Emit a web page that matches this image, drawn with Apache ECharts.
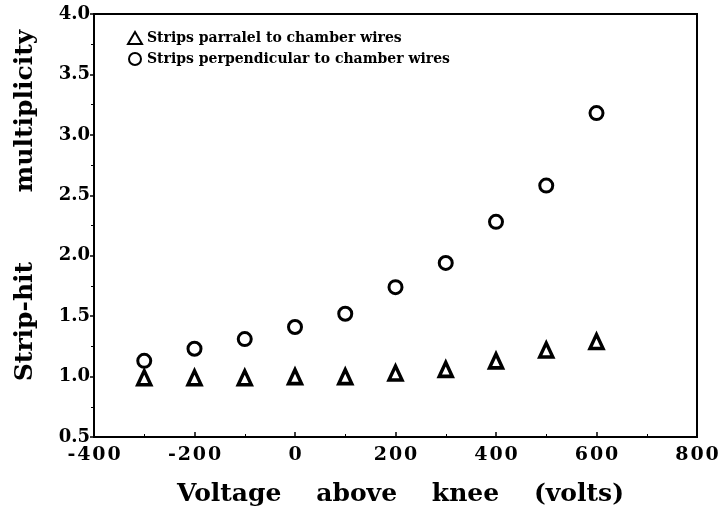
<!DOCTYPE html>
<html><head><meta charset="utf-8">
<script src="https://cdn.jsdelivr.net/npm/echarts@6/dist/echarts.min.js"></script>
<style>html,body{margin:0;padding:0;background:#fff}#c{width:725px;height:512px}</style>
</head><body><div id="c"></div>
<script>
var voltages = [-300, -200, -100, 0, 100, 200, 300, 400, 500, 600];
var parallelVals = [0.99, 0.99, 0.99, 1.0, 1.0, 1.03, 1.06, 1.13, 1.22, 1.29];
var perpVals = [1.13, 1.23, 1.31, 1.41, 1.52, 1.74, 1.94, 2.28, 2.58, 3.18];
var seriesNames = ['Strips parralel to chamber wires', 'Strips perpendicular to chamber wires'];
var xAxisTitle = 'Voltage    above    knee    (volts)';
var yAxisTitle = 'Strip-hit        multiplicity';

function pairs(xs, ys) { return xs.map(function (x, i) { return [x, ys[i]]; }); }

var font = '"DejaVu Serif", "Liberation Serif", serif';
var chart = echarts.init(document.getElementById('c'));
chart.setOption({
  animation: false,
  backgroundColor: '#fff',
  grid: { left: 94, right: 28, top: 14, bottom: 75, show: true, borderColor: '#000', borderWidth: 2 },
  legend: {
    orient: 'vertical', left: 122, top: 26, itemGap: 7, itemWidth: 14, itemHeight: 12,
    textStyle: { fontFamily: font, fontWeight: 'bold', fontSize: 14, color: '#000' },
    data: seriesNames
  },
  xAxis: {
    type: 'value', min: -400, max: 800, interval: 200,
    name: xAxisTitle, nameLocation: 'middle', nameGap: 45,
    nameTextStyle: { fontFamily: font, fontWeight: 'bold', fontSize: 25, color: '#000', padding: [0, 0, 0, 10] },
    axisLine: { onZero: false, lineStyle: { color: '#000', width: 2 } },
    axisTick: { inside: true, length: 5, lineStyle: { color: '#000', width: 1.5 } },
    minorTick: { show: true, splitNumber: 2, length: 3, lineStyle: { color: '#000' } },
    splitLine: { show: false },
    axisLabel: { fontFamily: font, fontWeight: 'bold', fontSize: 19, color: '#000', margin: 9,
      formatter: function (v) { return String(v).split('').join('\u200A'); } }
  },
  yAxis: {
    type: 'value', min: 0.5, max: 4.0, interval: 0.5,
    name: yAxisTitle, nameLocation: 'middle', nameGap: 56, nameRotate: 90,
    nameTextStyle: { fontFamily: font, fontWeight: 'bold', fontSize: 25, color: '#000', padding: [0, 0, 0, 40] },
    axisLine: { onZero: false, lineStyle: { color: '#000', width: 2 } },
    axisTick: { inside: false, length: 4, lineStyle: { color: '#000', width: 1.5 } },
    minorTick: { show: true, splitNumber: 2, length: 3, lineStyle: { color: '#000' } },
    splitLine: { show: false },
    axisLabel: { fontFamily: font, fontWeight: 'bold', fontSize: 18, color: '#000', margin: 4,
      formatter: function (v) { return v.toFixed(1); } }
  },
  series: [
    { name: seriesNames[0], type: 'scatter', symbol: 'triangle', symbolSize: [13, 14],
      itemStyle: { color: '#fff', borderColor: '#000', borderWidth: 3.5, opacity: 1 },
      data: pairs(voltages, parallelVals) },
    { name: seriesNames[1], type: 'scatter', symbol: 'circle', symbolSize: 13,
      itemStyle: { color: '#fff', borderColor: '#000', borderWidth: 3, opacity: 1 },
      data: pairs(voltages, perpVals) }
  ]
});
</script></body></html>
